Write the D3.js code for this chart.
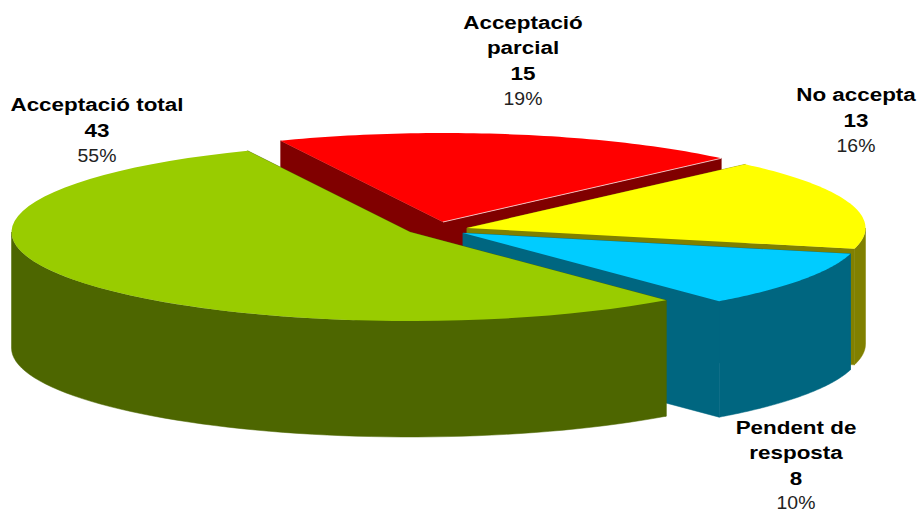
<!DOCTYPE html>
<html><head><meta charset="utf-8">
<script src="https://cdnjs.cloudflare.com/ajax/libs/d3/7.8.5/d3.min.js"></script>
<style>html,body{margin:0;padding:0;background:#fff}svg{display:block}
text{font-family:"Liberation Sans",Arial,sans-serif;text-anchor:middle}</style>
</head><body><div id="chart"></div>
<script>
const categories = ["Acceptació total", "Acceptació parcial", "No accepta", "Pendent de resposta"];
const values = [43, 15, 13, 8];
const percentLabels = ["55%", "19%", "16%", "10%"];
const labelLines = [["Acceptació total"], ["Acceptació", "parcial"], ["No accepta"], ["Pendent de", "resposta"]];
const topColors = ["#99CC00", "#FF0000", "#FFFF00", "#00CCFF"];
const sideColors = ["#4D6600", "#800000", "#808000", "#006680"];

// layout
const W = 918, H = 511;
const RX = 398.5, RY = 89, DEPTH = 116;
const START = 140 * Math.PI / 180;
const TAU = 2 * Math.PI;
const centers = [[410, 232], [443, 222], [467, 228], [463, 233]];
const labelPos = [[97, 111], [523, 28.5], [856, 101], [796, 433.5]];
const percentShift = [0, 0, 0, -1.3];
const lineGap = 25.6;
const drawOrder = [1, 2, 3, 0];

const svg = d3.select("#chart").append("svg").attr("width", W).attr("height", H);
const pie = d3.pie().value(d => d).sort(null).startAngle(START).endAngle(START + TAU);
const arcs = pie(values);
const lineGen = d3.line();

function pt(c, a, dz = 0) {
  return [c[0] + RX * Math.sin(a), c[1] - RY * Math.cos(a) + dz];
}
function arcPts(c, a0, a1, dz = 0) {
  return d3.range(0, 61).map(i => pt(c, a0 + (a1 - a0) * i / 60, dz));
}
const apex = (c, dz = 0) => [c[0], c[1] + dz];

drawOrder.forEach(i => {
  const c = centers[i], a = arcs[i];
  const g = svg.append("g");
  const fill = sideColors[i];
  [a.startAngle, a.endAngle].forEach(t => {
    const wall = [apex(c), pt(c, t), pt(c, t, DEPTH), apex(c, DEPTH)];
    g.append("path").attr("d", lineGen(wall) + "Z").attr("fill", fill)
      .attr("stroke", fill).attr("stroke-width", 0.5);
  });
  // outer wall: only the parts of the rim that face the viewer
  [0, TAU].forEach(k => {
    const lo = Math.max(a.startAngle, Math.PI / 2 + k);
    const hi = Math.min(a.endAngle, 1.5 * Math.PI + k);
    if (hi > lo) {
      const wall = arcPts(c, lo, hi).concat(arcPts(c, hi, lo, DEPTH));
      g.append("path").attr("d", lineGen(wall) + "Z").attr("fill", fill)
        .attr("stroke", fill).attr("stroke-width", 0.5);
    }
  });
  const top = [apex(c)].concat(arcPts(c, a.startAngle, a.endAngle));
  g.append("path").attr("d", lineGen(top) + "Z").attr("fill", topColors[i]);
  if (i === 1) {
    g.append("path").attr("d", lineGen([apex(c), pt(c, a.endAngle)]))
      .attr("stroke", "#fff").attr("stroke-width", 0.7).attr("fill", "none");
  }
});

function addText(x, y, s, size, weight, fill, sx) {
  svg.append("text").attr("transform", `translate(${x},${y}) scale(${sx},1)`)
    .attr("font-size", size).attr("font-weight", weight).attr("fill", fill).text(s);
}
labelLines.forEach((lines, i) => {
  const [x, y0] = labelPos[i];
  const rows = lines.concat([String(values[i])]);
  rows.forEach((s, k) => addText(x, y0 + k * lineGap, s, 19, "bold", "#000", 1.18));
  addText(x, y0 + rows.length * lineGap - 0.5 + percentShift[i], percentLabels[i], 18.5, "normal", "#222", 1.05);
});
</script></body></html>
